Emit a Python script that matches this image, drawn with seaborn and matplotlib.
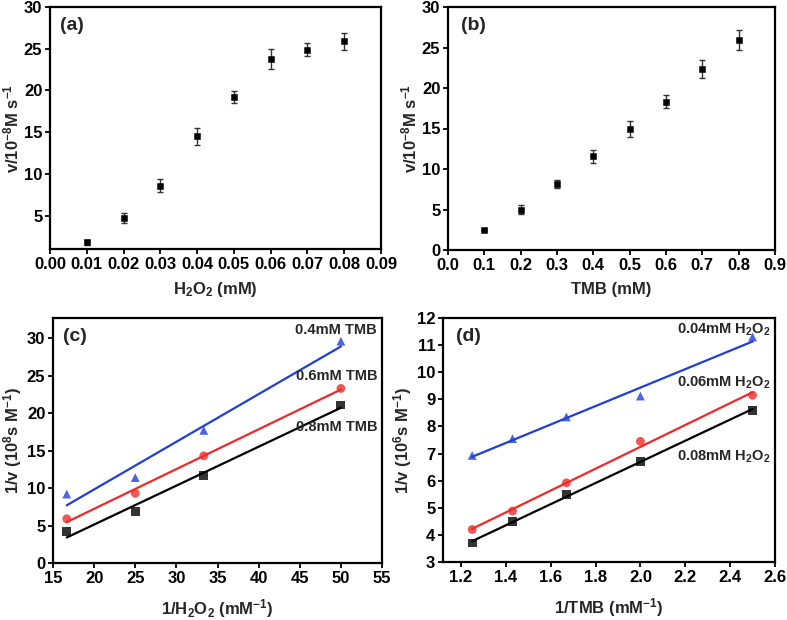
import numpy as np
import pandas as pd
import matplotlib
matplotlib.use('Agg')
import matplotlib.pyplot as plt
import seaborn as sns

# (a) rate vs H2O2
h2o2_conc = [0.01, 0.02, 0.03, 0.04, 0.05, 0.06, 0.07, 0.08]
rate_a = [1.8, 4.7, 8.6, 14.5, 19.2, 23.8, 24.9, 25.9]
err_a = [0.3, 0.6, 0.8, 1.0, 0.7, 1.2, 0.8, 1.0]

# (b) rate vs TMB
tmb_conc = [0.1, 0.2, 0.3, 0.4, 0.5, 0.6, 0.7, 0.8]
rate_b = [2.5, 5.0, 8.1, 11.6, 14.9, 18.3, 22.3, 25.9]
err_b = [0.15, 0.6, 0.5, 0.8, 1.0, 0.8, 1.1, 1.2]

# (c) double reciprocal, varying H2O2
inv_h2o2 = [16.67, 25.0, 33.33, 50.0]
inv_v_c_04 = [9.2, 11.4, 17.7, 29.6]
inv_v_c_06 = [5.9, 9.3, 14.3, 23.3]
inv_v_c_08 = [4.2, 6.9, 11.7, 21.1]

# (d) double reciprocal, varying TMB
inv_tmb = [1.25, 1.43, 1.67, 2.0, 2.5]
inv_v_d_004 = [6.93, 7.55, 8.35, 9.12, 11.3]
inv_v_d_006 = [4.2, 4.88, 5.92, 7.45, 9.15]
inv_v_d_008 = [3.7, 4.48, 5.48, 6.72, 8.6]

sns.set_theme(style='ticks')
plt.rcParams['font.family'] = ['Liberation Sans', 'DejaVu Sans']
plt.rcParams['font.weight'] = 'bold'
plt.rcParams['axes.labelweight'] = 'bold'
plt.rcParams['mathtext.default'] = 'bf'
plt.rcParams['mathtext.fontset'] = 'custom'
plt.rcParams['mathtext.bf'] = 'Liberation Sans:bold'
plt.rcParams['mathtext.rm'] = 'Liberation Sans:bold'
plt.rcParams['axes.linewidth'] = 1.6
plt.rcParams['xtick.major.width'] = 1.3
plt.rcParams['ytick.major.width'] = 1.3
plt.rcParams['xtick.major.size'] = 3.5
plt.rcParams['ytick.major.size'] = 3.5

TICK_FS = 12
LABEL_FS = 12

fig = plt.figure(figsize=(7.87, 6.2), dpi=100)
W, H = 787, 620
def add_ax(l, t, r, b):
    return fig.add_axes([l / W, 1 - b / H, (r - l) / W, (b - t) / H])

ax_a = add_ax(50, 7, 381, 249)
ax_b = add_ax(448, 7, 775, 250)
ax_c = add_ax(53, 318, 382, 563)
ax_d = add_ax(443, 318, 775, 562)

# panel a
df_a = pd.DataFrame({'x': h2o2_conc, 'y': rate_a, 'e': err_a})
ax_a.errorbar(df_a['x'], df_a['y'], yerr=df_a['e'], fmt='none', ecolor='#333333',
              elinewidth=1, capsize=2.5, capthick=1)
sns.scatterplot(data=df_a, x='x', y='y', marker='s', color='black', s=22,
                edgecolor='black', ax=ax_a, zorder=3)
ax_a.set_xlim(0, 0.09)
ax_a.set_ylim(1, 30)
ax_a.set_xticks(np.arange(0, 0.091, 0.01))
ax_a.set_xticklabels([f'{t:.2f}' for t in np.arange(0, 0.091, 0.01)])
ax_a.set_yticks([5, 10, 15, 20, 25, 30])
ax_a.set_xlabel('H$_2$O$_2$ (mM)', labelpad=6, fontsize=LABEL_FS, fontweight='bold')
ax_a.set_ylabel('v/10$^{-8}$M s$^{-1}$', labelpad=2, fontsize=LABEL_FS, fontweight='bold')
ax_a.text(0.03, 0.96, '(a)', transform=ax_a.transAxes, fontsize=14,
          fontweight='bold', va='top')

# panel b
df_b = pd.DataFrame({'x': tmb_conc, 'y': rate_b, 'e': err_b})
ax_b.errorbar(df_b['x'], df_b['y'], yerr=df_b['e'], fmt='none', ecolor='#333333',
              elinewidth=1, capsize=2.5, capthick=1)
sns.scatterplot(data=df_b, x='x', y='y', marker='s', color='black', s=22,
                edgecolor='black', ax=ax_b, zorder=3)
ax_b.set_xlim(0, 0.9)
ax_b.set_ylim(0, 30)
ax_b.set_xticks(np.arange(0, 0.91, 0.1))
ax_b.set_xticklabels([f'{t:.1f}' for t in np.arange(0, 0.91, 0.1)])
ax_b.set_yticks([0, 5, 10, 15, 20, 25, 30])
ax_b.set_xlabel('TMB (mM)', labelpad=7, fontsize=LABEL_FS, fontweight='bold')
ax_b.set_ylabel('v/10$^{-8}$M s$^{-1}$', labelpad=2, fontsize=LABEL_FS, fontweight='bold')
ax_b.text(0.04, 0.96, '(b)', transform=ax_b.transAxes, fontsize=14,
          fontweight='bold', va='top')

# panel c
series_c = [(inv_v_c_04, '#1f3fd6', '^'), (inv_v_c_06, '#ee2a2a', 'o'),
            (inv_v_c_08, 'black', 's')]
for yv, col, mk in series_c:
    sns.regplot(x=inv_h2o2, y=yv, ci=None, marker=mk, color=col, ax=ax_c,
                scatter_kws={'s': 40, 'edgecolor': 'none'},
                line_kws={'lw': 1.6})
ax_c.set_xlim(15, 55)
ax_c.set_ylim(0, 32.7)
ax_c.set_xticks(range(15, 56, 5))
ax_c.set_yticks(range(0, 31, 5))
ax_c.set_xlabel('1/H$_2$O$_2$ (mM$^{-1}$)', labelpad=8, fontsize=LABEL_FS, fontweight='bold')
ax_c.set_ylabel('1/v (10$^8$s M$^{-1}$)', labelpad=2, fontsize=LABEL_FS, fontweight='bold')
ax_c.text(0.03, 0.96, '(c)', transform=ax_c.transAxes, fontsize=14,
          fontweight='bold', va='top')
for lab, yy in [('0.4mM TMB', 31.1), ('0.6mM TMB', 24.9), ('0.8mM TMB', 18.2)]:
    ax_c.text(54.4, yy, lab, ha='right', va='center', fontsize=10.5,
              fontweight='bold')

# panel d
series_d = [(inv_v_d_004, '#1f3fd6', '^'), (inv_v_d_006, '#ee2a2a', 'o'),
            (inv_v_d_008, 'black', 's')]
for yv, col, mk in series_d:
    sns.regplot(x=inv_tmb, y=yv, ci=None, marker=mk, color=col, ax=ax_d,
                scatter_kws={'s': 40, 'edgecolor': 'none'},
                line_kws={'lw': 1.6})
ax_d.set_xlim(1.12, 2.6)
ax_d.set_ylim(3, 12)
ax_d.set_xticks(np.arange(1.2, 2.61, 0.2))
ax_d.set_xticklabels([f'{t:.1f}' for t in np.arange(1.2, 2.61, 0.2)])
ax_d.set_yticks(range(3, 13))
ax_d.set_xlabel('1/TMB (mM$^{-1}$)', labelpad=8, fontsize=LABEL_FS, fontweight='bold')
ax_d.set_ylabel('1/v (10$^6$s M$^{-1}$)', labelpad=2, fontsize=LABEL_FS, fontweight='bold')
ax_d.text(0.04, 0.96, '(d)', transform=ax_d.transAxes, fontsize=14,
          fontweight='bold', va='top')
for lab, yy in [('0.04mM H$_2$O$_2$', 11.56), ('0.06mM H$_2$O$_2$', 9.6),
                ('0.08mM H$_2$O$_2$', 6.88)]:
    ax_d.text(2.58, yy, lab, ha='right', va='center', fontsize=10.5,
              fontweight='bold')

for ax in (ax_a, ax_b, ax_c, ax_d):
    for s in ax.spines.values():
        s.set_visible(True)
        s.set_color('black')
    ax.tick_params(direction='out', colors='black', pad=2)
    for lbl in ax.get_xticklabels() + ax.get_yticklabels():
        lbl.set_fontweight('bold')
        lbl.set_fontsize(TICK_FS)

fig.savefig('out.png', dpi=100)
